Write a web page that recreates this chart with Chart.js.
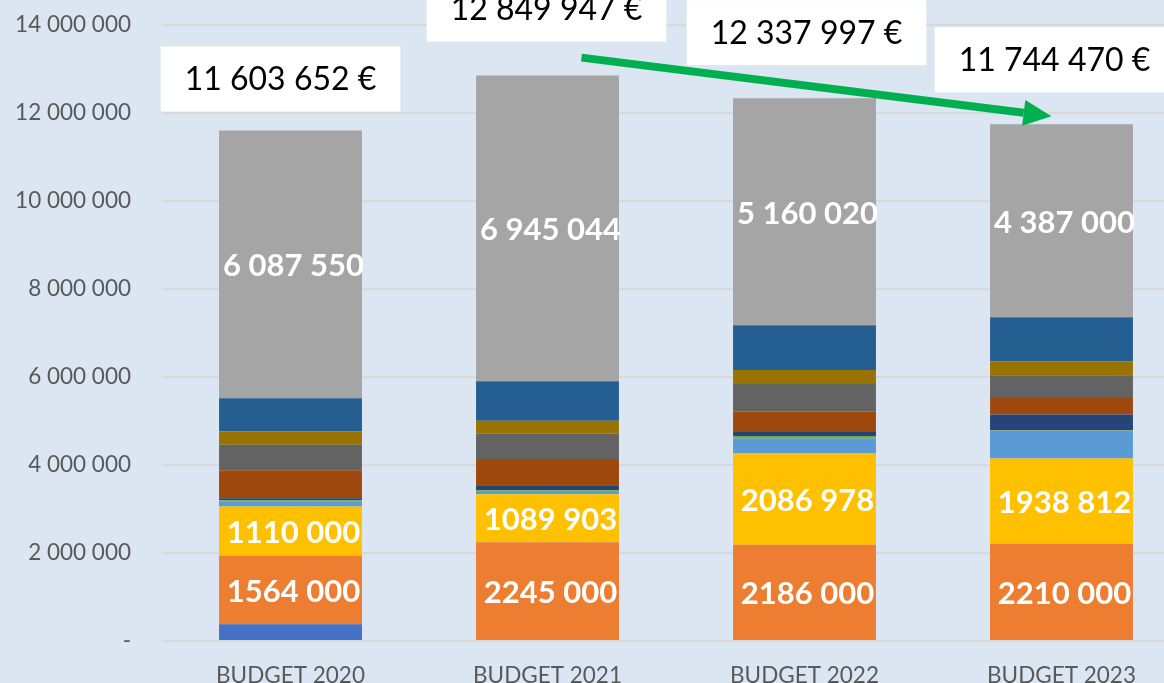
<!DOCTYPE html>
<html>
<head>
<meta charset="utf-8">
<script src="https://cdn.jsdelivr.net/npm/chart.js@4.4.0/dist/chart.umd.min.js"></script>
<style>
  html, body { margin: 0; padding: 0; overflow: hidden; background: #dce6f2; }
  #wrap { position: relative; width: 1190px; height: 683px; }
</style>
</head>
<body>
<div id="wrap"><canvas id="budgetChart"></canvas></div>
<script>
// categories and stacked values (bottom to top)
const categories = ["BUDGET 2020", "BUDGET 2021", "BUDGET 2022", "BUDGET 2023"];
const blueValues = [380000, 0, 0, 0];
const orangeValues = [1564000, 2245000, 2186000, 2210000];
const goldValues = [1110000, 1089903, 2086978, 1938812];
const lightBlueValues = [112000, 50000, 330000, 630000];
const greenValues = [32000, 40000, 55000, 10000];
const darkBlueValues = [45000, 113000, 91000, 360000];
const darkOrangeValues = [640000, 600000, 465000, 396000];
const darkGrayValues = [575000, 575000, 625000, 495000];
const darkGoldValues = [305000, 290000, 318000, 318000];
const steelValues = [753000, 902000, 1021000, 1000000];
const grayValues = [6087550, 6945044, 5160020, 4387000];

// labels printed inside the bars
const orangeLabels = ["1564 000", "2245 000", "2186 000", "2210 000"];
const goldLabels = ["1110 000", "1089 903", "2086 978", "1938 812"];
const grayLabels = ["6 087 550", "6 945 044", "5 160 020", "4 387 000"];

// totals shown in the white boxes
const totals = [11603652, 12849947, 12337997, 11744470];

// y axis
const yMax = 14000000;
const yStep = 2000000;

// where the white boxes sit, relative to the top of each bar
const boxShiftX = [-10, -1, 2, -7];
const boxGap = [19, 34, 33, 32];

function spaced(n) {
  return String(n).replace(/\B(?=(\d{3})+(?!\d))/g, " ");
}

const series = [
  { values: blueValues, color: "#4472c4" },
  { values: orangeValues, color: "#ed7d31" },
  { values: goldValues, color: "#ffc000" },
  { values: lightBlueValues, color: "#5b9bd5" },
  { values: greenValues, color: "#70ad47" },
  { values: darkBlueValues, color: "#264478" },
  { values: darkOrangeValues, color: "#9e480e" },
  { values: darkGrayValues, color: "#636363" },
  { values: darkGoldValues, color: "#997300" },
  { values: steelValues, color: "#255e91" },
  { values: grayValues, color: "#a5a5a5" },
];

const labelFont = "bold 31px Lato";
const boxFont = "32px Lato";

// draws the values in the bars, the total boxes and the green arrow
const overlayPlugin = {
  id: "overlay",
  afterDatasetsDraw(chart) {
    const ctx = chart.ctx;
    const y = chart.scales.y;
    ctx.save();

    // values inside bars
    ctx.font = labelFont;
    ctx.fillStyle = "#ffffff";
    ctx.textAlign = "center";
    ctx.textBaseline = "middle";
    [[1, orangeLabels], [2, goldLabels], [10, grayLabels]].forEach(([idx, texts]) => {
      chart.getDatasetMeta(idx).data.forEach((bar, i) => {
        ctx.fillText(texts[i], bar.x + 3, (bar.y + bar.base) / 2 + 2);
      });
    });

    // total boxes
    const topMeta = chart.getDatasetMeta(10);
    ctx.font = boxFont;
    topMeta.data.forEach((bar, i) => {
      const text = spaced(totals[i]) + " €";
      const w = ctx.measureText(text).width + 48;
      const h = 65;
      const cx = bar.x + boxShiftX[i];
      const bottom = y.getPixelForValue(totals[i]) - boxGap[i];
      ctx.fillStyle = "#ffffff";
      ctx.fillRect(cx - w / 2, bottom - h, w, h);
      ctx.fillStyle = "#000000";
      ctx.fillText(text, cx, bottom - h / 2 + 1);
    });

    // green arrow from 2021 to 2023
    const b1 = topMeta.data[1];
    const b3 = topMeta.data[3];
    const x0 = b1.x + 34, y0 = y.getPixelForValue(totals[1]) - 18;
    const x1 = b3.x - 10, y1 = y.getPixelForValue(totals[3]) - 8;
    const ang = Math.atan2(y1 - y0, x1 - x0);
    const headLen = 28, headHalf = 13;
    const bx = x1 - headLen * Math.cos(ang), by = y1 - headLen * Math.sin(ang);
    ctx.strokeStyle = "#00b050";
    ctx.lineWidth = 8;
    ctx.beginPath();
    ctx.moveTo(x0, y0);
    ctx.lineTo(bx, by);
    ctx.stroke();
    ctx.fillStyle = "#00b050";
    ctx.beginPath();
    ctx.moveTo(x1, y1);
    ctx.lineTo(bx + headHalf * Math.sin(ang), by - headHalf * Math.cos(ang));
    ctx.lineTo(bx - headHalf * Math.sin(ang), by + headHalf * Math.cos(ang));
    ctx.closePath();
    ctx.fill();

    ctx.restore();
  },
};

const ctx = document.getElementById("budgetChart").getContext("2d");
const budgetChart = new Chart(ctx, {
  type: "bar",
  data: {
    labels: categories,
    datasets: series.map((s) => ({
      data: s.values,
      backgroundColor: s.color,
      borderWidth: 0,
      categoryPercentage: 1,
      barPercentage: 0.556,
    })),
  },
  options: {
    responsive: true,
    maintainAspectRatio: false,
    animation: false,
    layout: { padding: { top: 25, left: 0, right: 0, bottom: 0 } },
    plugins: { legend: { display: false }, tooltip: { enabled: false } },
    scales: {
      x: {
        stacked: true,
        grid: { display: false },
        border: { display: false },
        ticks: { color: "#595959", font: { family: "Lato", size: 22.5 }, padding: 13 },
        afterFit: (scale) => { scale.height = 42; },
      },
      y: {
        stacked: true,
        min: 0,
        max: yMax,
        border: { display: false },
        grid: { color: "#d9d9d9", lineWidth: 2, drawTicks: false },
        ticks: {
          stepSize: yStep,
          color: "#595959",
          font: { family: "Lato", size: 22.5 },
          padding: 31,
          callback: (v) => (v === 0 ? "-" : spaced(v)),
        },
        afterFit: (scale) => {
          scale.width = 162;
          scale.paddingTop = 0;
          scale.paddingBottom = 0;
        },
      },
    },
  },
  plugins: [overlayPlugin],
});
</script>
</body>
</html>
